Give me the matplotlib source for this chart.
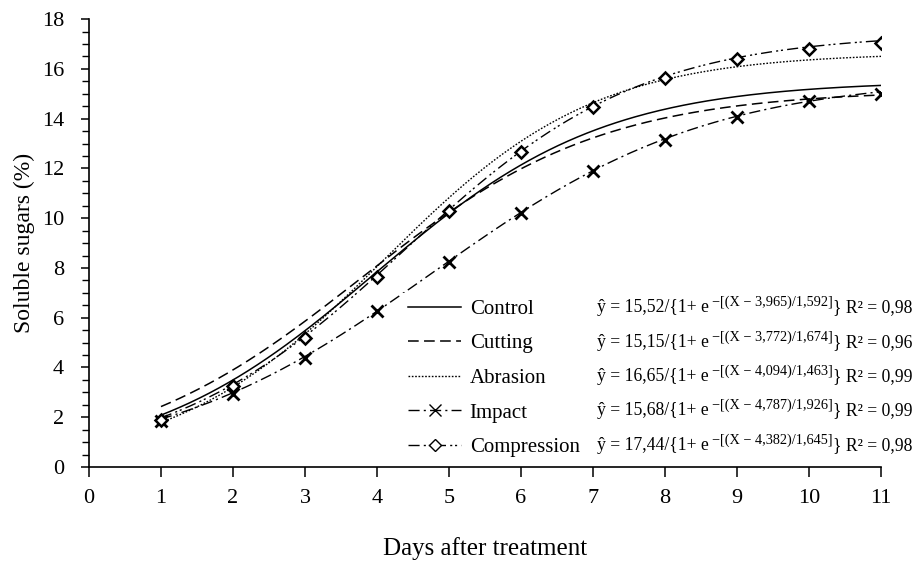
import numpy as np
import matplotlib
matplotlib.use("Agg")
from matplotlib import pyplot as plt

plt.rcParams['font.family'] = ['Liberation Serif', 'DejaVu Serif']

# treatments and fitted logistic parameters (a, b, c) read from the equations
treatments = ["Control", "Cutting", "Abrasion", "Impact", "Compression"]
a_vals = [15.52, 15.15, 16.65, 15.68, 17.44]
b_vals = [3.965, 3.772, 4.094, 4.787, 4.382]
c_vals = [1.592, 1.674, 1.463, 1.926, 1.645]
r2_txt = ["0,98", "0,96", "0,99", "0,99", "0,98"]
a_txt = ["15,52", "15,15", "16,65", "15,68", "17,44"]
b_txt = ["3,965", "3,772", "4,094", "4,787", "4,382"]
c_txt = ["1,592", "1,674", "1,463", "1,926", "1,645"]

# observed points (only shown for Impact and Compression)
days = [1, 2, 3, 4, 5, 6, 7, 8, 9, 10, 11]
impact_obs = [1.85, 2.95, 4.4, 6.25, 8.25, 10.2, 11.9, 13.15, 14.05, 14.7, 15.0]
compression_obs = [1.9, 3.25, 5.2, 7.65, 10.3, 12.65, 14.45, 15.65, 16.4, 16.8, 17.05]

styles = [
    dict(linestyle='-', lw=1.1),
    dict(linestyle=(0, (7, 3.5)), lw=1.1),
    dict(linestyle=(0, (1.2, 1.2)), lw=1.0),
    dict(linestyle=(0, (8, 3, 1.5, 3)), lw=1.0, marker='x', ms=8.5, mew=2.0),
    dict(linestyle=(0, (8, 3, 1.5, 2, 1.5, 3)), lw=1.0, marker='D', ms=6, mew=1.8, mfc='white'),
]
observed = [None, None, None, impact_obs, compression_obs]

fig = plt.figure(figsize=(9.21, 5.62), dpi=100)
ax = fig.add_axes([0.0966, 0.169, 0.86, 0.797])

xs = np.linspace(1, 11, 300)
handles = []
for i, name in enumerate(treatments):
    st = dict(styles[i])
    marker = st.pop('marker', None)
    ms = st.pop('ms', None)
    mew = st.pop('mew', None)
    mfc = st.pop('mfc', 'black')
    yfit = a_vals[i] / (1 + np.exp(-(xs - b_vals[i]) / c_vals[i]))
    ax.plot(xs, yfit, color='black', **st)
    if observed[i] is not None:
        ax.plot(days, observed[i], linestyle='none', marker=marker, ms=ms,
                mew=mew, mfc=mfc, mec='black', color='black')
    h, = ax.plot([], [], color='black', marker=marker, ms=ms, mew=1.0 if mew else None,
                 mfc=mfc, mec='black', **st)
    handles.append(h)

leg = ax.legend(handles, treatments, loc='upper left', bbox_to_anchor=(402 / 921, 1 - 293 / 562),
                bbox_transform=fig.transFigure, fontsize=15, frameon=True, facecolor='white',
                edgecolor='none', framealpha=1, handlelength=2.55, handletextpad=0.4,
                labelspacing=0.72, borderpad=0.3, borderaxespad=0, fancybox=False)

# equations: main text, raised exponent, then closing part
eq_rows = [307, 342, 376, 410, 445]
for i in range(len(treatments)):
    yb = 1 - (eq_rows[i] + 5) / 562
    t1 = fig.text(597 / 921, yb, "ŷ = " + a_txt[i] + "/{1+ e", fontsize=12.7,
                  ha='left', va='baseline', zorder=10)
    t2 = ax.annotate("−[(X − " + b_txt[i] + ")/" + c_txt[i] + "]", xy=(1, yb + 6 / 562),
                     xycoords=(t1, 'figure fraction'), xytext=(2.5, 0), textcoords='offset points',
                     fontsize=10.3, ha='left', va='baseline', zorder=10, annotation_clip=False)
    t3 = ax.annotate("} R² = " + r2_txt[i], xy=(1, yb), xycoords=(t2, 'figure fraction'),
                     fontsize=12.7, ha='left', va='baseline', zorder=10, annotation_clip=False)

ax.set_xlim(0, 11)
ax.set_ylim(0, 18)
ax.set_xticks(range(0, 12))
ax.set_yticks(range(0, 19, 2))
ax.set_yticks(np.arange(0, 18.01, 0.5), minor=True)
ax.spines['top'].set_visible(False)
ax.spines['right'].set_visible(False)
ax.spines['left'].set_linewidth(1.2)
ax.spines['bottom'].set_linewidth(1.2)
ax.tick_params(axis='y', which='major', length=6, width=1.1, labelsize=16, pad=12)
ax.tick_params(axis='y', which='minor', length=5, width=1.0)
ax.tick_params(axis='x', which='major', length=7, width=1.1, labelsize=16, pad=9)
ax.set_xlabel("Days after treatment", fontsize=18, labelpad=21)
ax.set_ylabel("Soluble sugars (%)", fontsize=17, labelpad=5)

plt.savefig("out.png", dpi=100)
